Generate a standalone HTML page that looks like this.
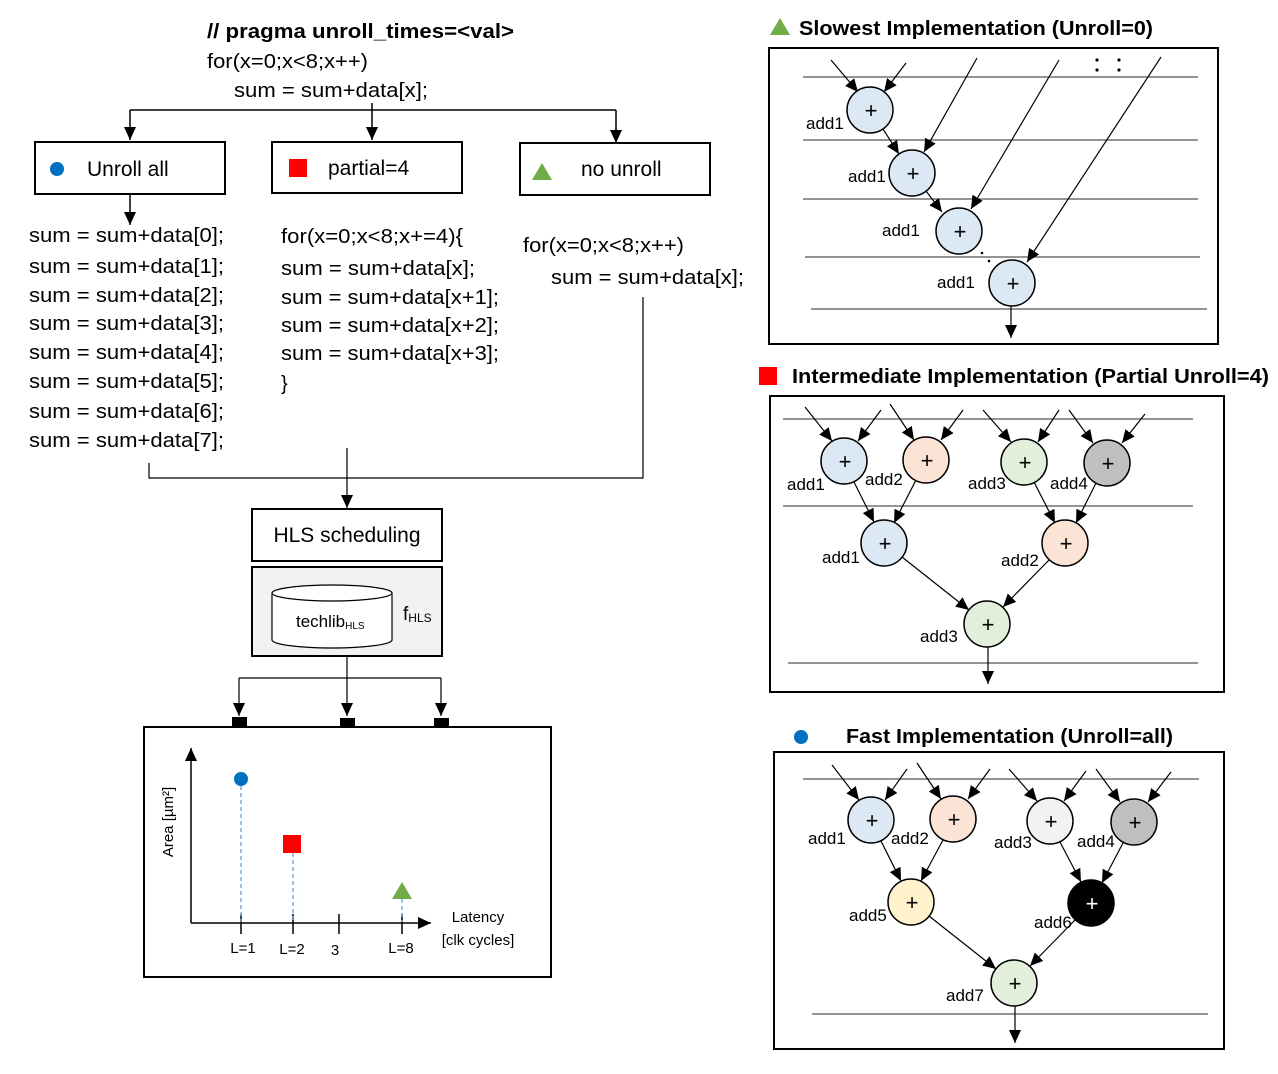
<!DOCTYPE html>
<html><head><meta charset="utf-8"><style>html,body{margin:0;padding:0;background:#fff}svg{display:block}</style></head>
<body>
<svg width="1278" height="1074" viewBox="0 0 1278 1074" xmlns="http://www.w3.org/2000/svg" font-family="Liberation Sans, sans-serif">
<defs>
<marker id="a" markerUnits="userSpaceOnUse" markerWidth="13" markerHeight="12" refX="13" refY="6" orient="auto"><path d="M0,0 L13,6 L0,12 z" fill="#000"/></marker>
</defs>
<rect width="1278" height="1074" fill="#fff"/>

<g font-size="20" fill="#000">
<text x="207" y="38" font-weight="bold" textLength="307" lengthAdjust="spacingAndGlyphs">// pragma  unroll_times=&lt;val&gt;</text>
<text x="207" y="68" textLength="161" lengthAdjust="spacingAndGlyphs">for(x=0;x&lt;8;x++)</text>
<text x="234" y="97" textLength="194" lengthAdjust="spacingAndGlyphs">sum = sum+data[x];</text>
</g>
<g stroke="#000" stroke-width="1.5" fill="none">
<path d="M130,110 H616"/>
<path d="M372,103 V110"/>
<line x1="130" y1="110" x2="130" y2="140" marker-end="url(#a)"/>
<line x1="372" y1="110" x2="372" y2="140" marker-end="url(#a)"/>
<line x1="616" y1="110" x2="616" y2="143" marker-end="url(#a)"/>
<line x1="130" y1="194" x2="130" y2="225" marker-end="url(#a)"/>
<rect x="35" y="142" width="190" height="52" stroke-width="2"/>
<rect x="272" y="142" width="190" height="51" stroke-width="2"/>
<rect x="520" y="143" width="190" height="52" stroke-width="2"/>
</g>
<circle cx="57" cy="169" r="7" fill="#0070c0"/>
<rect x="289" y="159" width="18" height="18" fill="#ff0000"/>
<polygon points="542,163 532,180 552,180" fill="#70ad47"/>
<g font-size="21" fill="#000">
<text x="87" y="176">Unroll all</text>
<text x="328" y="175">partial=4</text>
<text x="581" y="176">no unroll</text>
</g>

<g font-size="20" fill="#000">
<text x="29" y="242" textLength="195" lengthAdjust="spacingAndGlyphs">sum = sum+data[0];</text>
<text x="29" y="273" textLength="195" lengthAdjust="spacingAndGlyphs">sum = sum+data[1];</text>
<text x="29" y="302" textLength="195" lengthAdjust="spacingAndGlyphs">sum = sum+data[2];</text>
<text x="29" y="330" textLength="195" lengthAdjust="spacingAndGlyphs">sum = sum+data[3];</text>
<text x="29" y="359" textLength="195" lengthAdjust="spacingAndGlyphs">sum = sum+data[4];</text>
<text x="29" y="388" textLength="195" lengthAdjust="spacingAndGlyphs">sum = sum+data[5];</text>
<text x="29" y="418" textLength="195" lengthAdjust="spacingAndGlyphs">sum = sum+data[6];</text>
<text x="29" y="447" textLength="195" lengthAdjust="spacingAndGlyphs">sum = sum+data[7];</text>
<text x="281" y="243" textLength="182" lengthAdjust="spacingAndGlyphs">for(x=0;x&lt;8;x+=4){</text>
<text x="281" y="275" textLength="194" lengthAdjust="spacingAndGlyphs">sum = sum+data[x];</text>
<text x="281" y="304" textLength="218" lengthAdjust="spacingAndGlyphs">sum = sum+data[x+1];</text>
<text x="281" y="332" textLength="218" lengthAdjust="spacingAndGlyphs">sum = sum+data[x+2];</text>
<text x="281" y="360" textLength="218" lengthAdjust="spacingAndGlyphs">sum = sum+data[x+3];</text>
<text x="281" y="390">}</text>
<text x="523" y="252" textLength="161" lengthAdjust="spacingAndGlyphs">for(x=0;x&lt;8;x++)</text>
<text x="551" y="284" textLength="193" lengthAdjust="spacingAndGlyphs">sum = sum+data[x];</text>
</g>
<g stroke="#000" stroke-width="1.2" fill="none">
<path d="M149,463 V478 H643 V297"/>
<line x1="347" y1="448" x2="347" y2="508" marker-end="url(#a)"/>
</g>

<rect x="252" y="509" width="190" height="52" fill="#fff" stroke="#000" stroke-width="2"/>
<text x="347" y="542" font-size="21" text-anchor="middle">HLS scheduling</text>
<rect x="252" y="567" width="190" height="89" fill="#f2f2f2" stroke="#000" stroke-width="2"/>
<path d="M272,593 V640 A60,8 0 0 0 392,640 V593" fill="#fff" stroke="#000" stroke-width="1.2"/>
<ellipse cx="332" cy="593" rx="60" ry="8" fill="#fff" stroke="#000" stroke-width="1.2"/>
<text x="296" y="627" font-size="17">techlib<tspan font-size="10" dy="2">HLS</tspan></text>
<text x="403" y="620" font-size="19">f<tspan font-size="12" dy="2">HLS</tspan></text>
<g stroke="#000" stroke-width="1.2" fill="none">
<line x1="347" y1="656" x2="347" y2="716" marker-end="url(#a)"/>
<path d="M239,678 H441"/>
<line x1="239" y1="678" x2="239" y2="716" marker-end="url(#a)"/>
<line x1="441" y1="678" x2="441" y2="716" marker-end="url(#a)"/>
</g>
<rect x="232" y="717" width="15" height="10" fill="#000"/>
<rect x="340" y="718" width="15" height="9" fill="#000"/>
<rect x="434" y="718" width="15" height="9" fill="#000"/>

<rect x="144" y="727" width="407" height="250" fill="#fff" stroke="#000" stroke-width="2"/>
<g stroke="#000" stroke-width="1.5" fill="none">
<line x1="191" y1="923" x2="191" y2="748" marker-end="url(#a)"/>
<line x1="191" y1="923" x2="431" y2="923" marker-end="url(#a)"/>
<line x1="241" y1="914" x2="241" y2="934"/>
<line x1="293" y1="914" x2="293" y2="934"/>
<line x1="339" y1="914" x2="339" y2="934"/>
<line x1="402" y1="914" x2="402" y2="934"/>
</g>
<g stroke="#5b9bd5" stroke-width="1.2" stroke-dasharray="4,3">
<line x1="241" y1="786" x2="241" y2="922"/>
<line x1="293" y1="853" x2="293" y2="922"/>
<line x1="402" y1="899" x2="402" y2="922"/>
</g>
<circle cx="241" cy="779" r="7" fill="#0070c0"/>
<rect x="283" y="835" width="18" height="18" fill="#ff0000"/>
<polygon points="402,882 392,899 412,899" fill="#70ad47"/>
<g font-size="15">
<text x="243" y="953" text-anchor="middle">L=1</text>
<text x="292" y="954" text-anchor="middle">L=2</text>
<text x="335" y="955" text-anchor="middle">3</text>
<text x="401" y="953" text-anchor="middle">L=8</text>
<text x="478" y="922" text-anchor="middle">Latency</text>
<text x="478" y="945" text-anchor="middle">[clk cycles]</text>
<text transform="translate(173,822) rotate(-90)" text-anchor="middle">Area [µm²]</text>
</g>

<polygon points="780,18 770,35 790,35" fill="#70ad47"/>
<text x="799" y="35" font-size="20" font-weight="bold" textLength="354" lengthAdjust="spacingAndGlyphs">Slowest Implementation (Unroll=0)</text>
<rect x="759" y="367" width="18" height="18" fill="#ff0000"/>
<text x="792" y="383" font-size="20" font-weight="bold" textLength="477" lengthAdjust="spacingAndGlyphs">Intermediate Implementation (Partial Unroll=4)</text>
<circle cx="801" cy="737" r="7" fill="#0070c0"/>
<text x="846" y="743" font-size="20" font-weight="bold" textLength="327" lengthAdjust="spacingAndGlyphs">Fast Implementation (Unroll=all)</text>

<rect x="769" y="48" width="449" height="296" fill="none" stroke="#000" stroke-width="2"/>
<g stroke="#555" stroke-width="1.2">
<line x1="803" y1="77" x2="1198" y2="77"/>
<line x1="803" y1="140" x2="1198" y2="140"/>
<line x1="803" y1="199" x2="1198" y2="199"/>
<line x1="805" y1="257" x2="1200" y2="257"/>
<line x1="811" y1="309" x2="1207" y2="309"/>
</g>
<g fill="#000"><circle cx="1097" cy="60" r="1.6"/><circle cx="1097" cy="70" r="1.6"/><circle cx="1119" cy="60" r="1.6"/><circle cx="1119" cy="70" r="1.6"/><circle cx="982" cy="253" r="1.3"/><circle cx="989" cy="261" r="1.3"/></g>
<g stroke="#000" stroke-width="1.2" fill="none">
<line x1="831" y1="60" x2="858" y2="92" marker-end="url(#a)"/>
<line x1="906" y1="63" x2="884" y2="92" marker-end="url(#a)"/>
<line x1="977" y1="58" x2="924" y2="152" marker-end="url(#a)"/>
<line x1="1059" y1="60" x2="971" y2="209" marker-end="url(#a)"/>
<line x1="1161" y1="57" x2="1027" y2="262" marker-end="url(#a)"/>
<line x1="883" y1="129" x2="899" y2="154" marker-end="url(#a)"/>
<line x1="926" y1="191" x2="942" y2="212" marker-end="url(#a)"/>
<line x1="1011" y1="306" x2="1011" y2="338" marker-end="url(#a)"/>
</g>
<g stroke="#000" stroke-width="1.5" fill="#dce9f5">
<circle cx="870" cy="110" r="23"/><circle cx="912" cy="173" r="23"/><circle cx="959" cy="231" r="23"/><circle cx="1012" cy="283" r="23"/>
</g>
<g font-size="22" text-anchor="middle">
<text x="871" y="118">+</text><text x="913" y="181">+</text><text x="960" y="239">+</text><text x="1013" y="291">+</text>
</g>
<g font-size="17">
<text x="806" y="129">add1</text><text x="848" y="182">add1</text><text x="882" y="236">add1</text><text x="937" y="288">add1</text>
</g>

<rect x="770" y="396" width="454" height="296" fill="none" stroke="#000" stroke-width="2"/>
<g stroke="#555" stroke-width="1.2">
<line x1="783" y1="419" x2="1193" y2="419"/>
<line x1="783" y1="506" x2="1193" y2="506"/>
<line x1="788" y1="663" x2="1198" y2="663"/>
</g>
<g stroke="#000" stroke-width="1.2" fill="none">
<line x1="805" y1="407" x2="832" y2="441" marker-end="url(#a)"/>
<line x1="881" y1="410" x2="858" y2="441" marker-end="url(#a)"/>
<line x1="890" y1="404" x2="914" y2="440" marker-end="url(#a)"/>
<line x1="963" y1="410" x2="941" y2="440" marker-end="url(#a)"/>
<line x1="983" y1="410" x2="1011" y2="442" marker-end="url(#a)"/>
<line x1="1059" y1="410" x2="1038" y2="442" marker-end="url(#a)"/>
<line x1="1069" y1="410" x2="1093" y2="443" marker-end="url(#a)"/>
<line x1="1145" y1="414" x2="1122" y2="443" marker-end="url(#a)"/>
<line x1="854" y1="482" x2="874" y2="522" marker-end="url(#a)"/>
<line x1="916" y1="480" x2="894" y2="523" marker-end="url(#a)"/>
<line x1="1034" y1="482" x2="1055" y2="523" marker-end="url(#a)"/>
<line x1="1096" y1="483" x2="1076" y2="523" marker-end="url(#a)"/>
<line x1="902" y1="557" x2="969" y2="610" marker-end="url(#a)"/>
<line x1="1049" y1="560" x2="1003" y2="607" marker-end="url(#a)"/>
<line x1="988" y1="647" x2="988" y2="684" marker-end="url(#a)"/>
</g>
<g stroke="#000" stroke-width="1.5">
<circle cx="844" cy="461" r="23" fill="#dce9f5"/>
<circle cx="926" cy="460" r="23" fill="#fbe3d6"/>
<circle cx="1024" cy="462" r="23" fill="#e2efda"/>
<circle cx="1107" cy="463" r="23" fill="#bfbfbf"/>
<circle cx="884" cy="543" r="23" fill="#dce9f5"/>
<circle cx="1065" cy="543" r="23" fill="#fbe3d6"/>
<circle cx="987" cy="624" r="23" fill="#e2efda"/>
</g>
<g font-size="22" text-anchor="middle">
<text x="845" y="469">+</text><text x="927" y="468">+</text><text x="1025" y="470">+</text><text x="1108" y="471">+</text>
<text x="885" y="551">+</text><text x="1066" y="551">+</text><text x="988" y="632">+</text>
</g>
<g font-size="17">
<text x="787" y="490">add1</text><text x="865" y="485">add2</text><text x="968" y="489">add3</text><text x="1050" y="489">add4</text>
<text x="822" y="563">add1</text><text x="1001" y="566">add2</text><text x="920" y="642">add3</text>
</g>

<rect x="774" y="752" width="450" height="297" fill="none" stroke="#000" stroke-width="2"/>
<g stroke="#555" stroke-width="1.2">
<line x1="803" y1="779" x2="1199" y2="779"/>
<line x1="812" y1="1014" x2="1208" y2="1014"/>
</g>
<g stroke="#000" stroke-width="1.2" fill="none">
<line x1="832" y1="765" x2="859" y2="800" marker-end="url(#a)"/>
<line x1="907" y1="769" x2="885" y2="800" marker-end="url(#a)"/>
<line x1="917" y1="763" x2="941" y2="799" marker-end="url(#a)"/>
<line x1="990" y1="769" x2="968" y2="799" marker-end="url(#a)"/>
<line x1="1009" y1="769" x2="1037" y2="801" marker-end="url(#a)"/>
<line x1="1086" y1="771" x2="1064" y2="801" marker-end="url(#a)"/>
<line x1="1096" y1="769" x2="1120" y2="802" marker-end="url(#a)"/>
<line x1="1171" y1="772" x2="1148" y2="802" marker-end="url(#a)"/>
<line x1="881" y1="841" x2="901" y2="881" marker-end="url(#a)"/>
<line x1="943" y1="840" x2="921" y2="881" marker-end="url(#a)"/>
<line x1="1060" y1="842" x2="1081" y2="882" marker-end="url(#a)"/>
<line x1="1123" y1="843" x2="1102" y2="883" marker-end="url(#a)"/>
<line x1="929" y1="916" x2="996" y2="969" marker-end="url(#a)"/>
<line x1="1075" y1="920" x2="1030" y2="966" marker-end="url(#a)"/>
<line x1="1015" y1="1006" x2="1015" y2="1043" marker-end="url(#a)"/>
</g>
<g stroke="#000" stroke-width="1.5">
<circle cx="871" cy="820" r="23" fill="#dce9f5"/>
<circle cx="953" cy="819" r="23" fill="#fbe3d6"/>
<circle cx="1050" cy="821" r="23" fill="#f2f2f2"/>
<circle cx="1134" cy="822" r="23" fill="#bfbfbf"/>
<circle cx="911" cy="902" r="23" fill="#fff2cc"/>
<circle cx="1091" cy="903" r="23" fill="#000"/>
<circle cx="1014" cy="983" r="23" fill="#e2efda"/>
</g>
<g font-size="22" text-anchor="middle">
<text x="872" y="828">+</text><text x="954" y="827">+</text><text x="1051" y="829">+</text><text x="1135" y="830">+</text>
<text x="912" y="910">+</text><text x="1092" y="911" fill="#fff">+</text><text x="1015" y="991">+</text>
</g>
<g font-size="17">
<text x="808" y="844">add1</text><text x="891" y="844">add2</text><text x="994" y="848">add3</text><text x="1077" y="847">add4</text>
<text x="849" y="921">add5</text><text x="1034" y="928">add6</text><text x="946" y="1001">add7</text>
</g>
</svg>
</body></html>
